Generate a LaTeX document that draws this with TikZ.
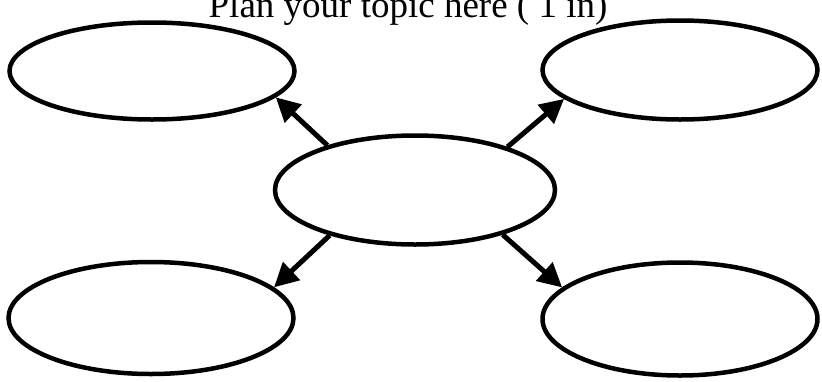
\documentclass[tikz,border=0pt]{standalone}
\usepackage{fontspec}
\setmainfont{Liberation Serif}
\usetikzlibrary{shapes.geometric,arrows.meta}

\begin{document}
\begin{tikzpicture}[x=1pt, y=-1pt]
  \tikzstyle{bubble} = [ellipse, draw, line width=4.5pt, fill=white, inner sep=0pt]
  \tikzstyle{link} = [-{Triangle[length=24pt, width=24pt]}, line width=5pt]
\useasboundingbox (0,0) rectangle (822,381);
\node[bubble, minimum width=280pt, minimum height=109pt] (mid) at (415,190) {};
\node[bubble, minimum width=285pt, minimum height=97pt] (tl) at (152,71) {};
\node[bubble, minimum width=275pt, minimum height=99pt] (tr) at (680,70) {};
\node[bubble, minimum width=285pt, minimum height=112pt] (bl) at (151,318) {};
\node[bubble, minimum width=275pt, minimum height=113pt] (br) at (680,319) {};
\draw[link] (mid.153) -- (tl.-12);
\draw[link] (mid.25) -- (tr.194);
\draw[link] (mid.208) -- (bl.14);
\draw[link] (mid.-27) -- (br.165);
\node[anchor=base, inner sep=0pt, font=\fontsize{37}{40}\selectfont] (title) at (408,17) {Plan your topic here ( 1 in)};
\end{tikzpicture}
\end{document}
